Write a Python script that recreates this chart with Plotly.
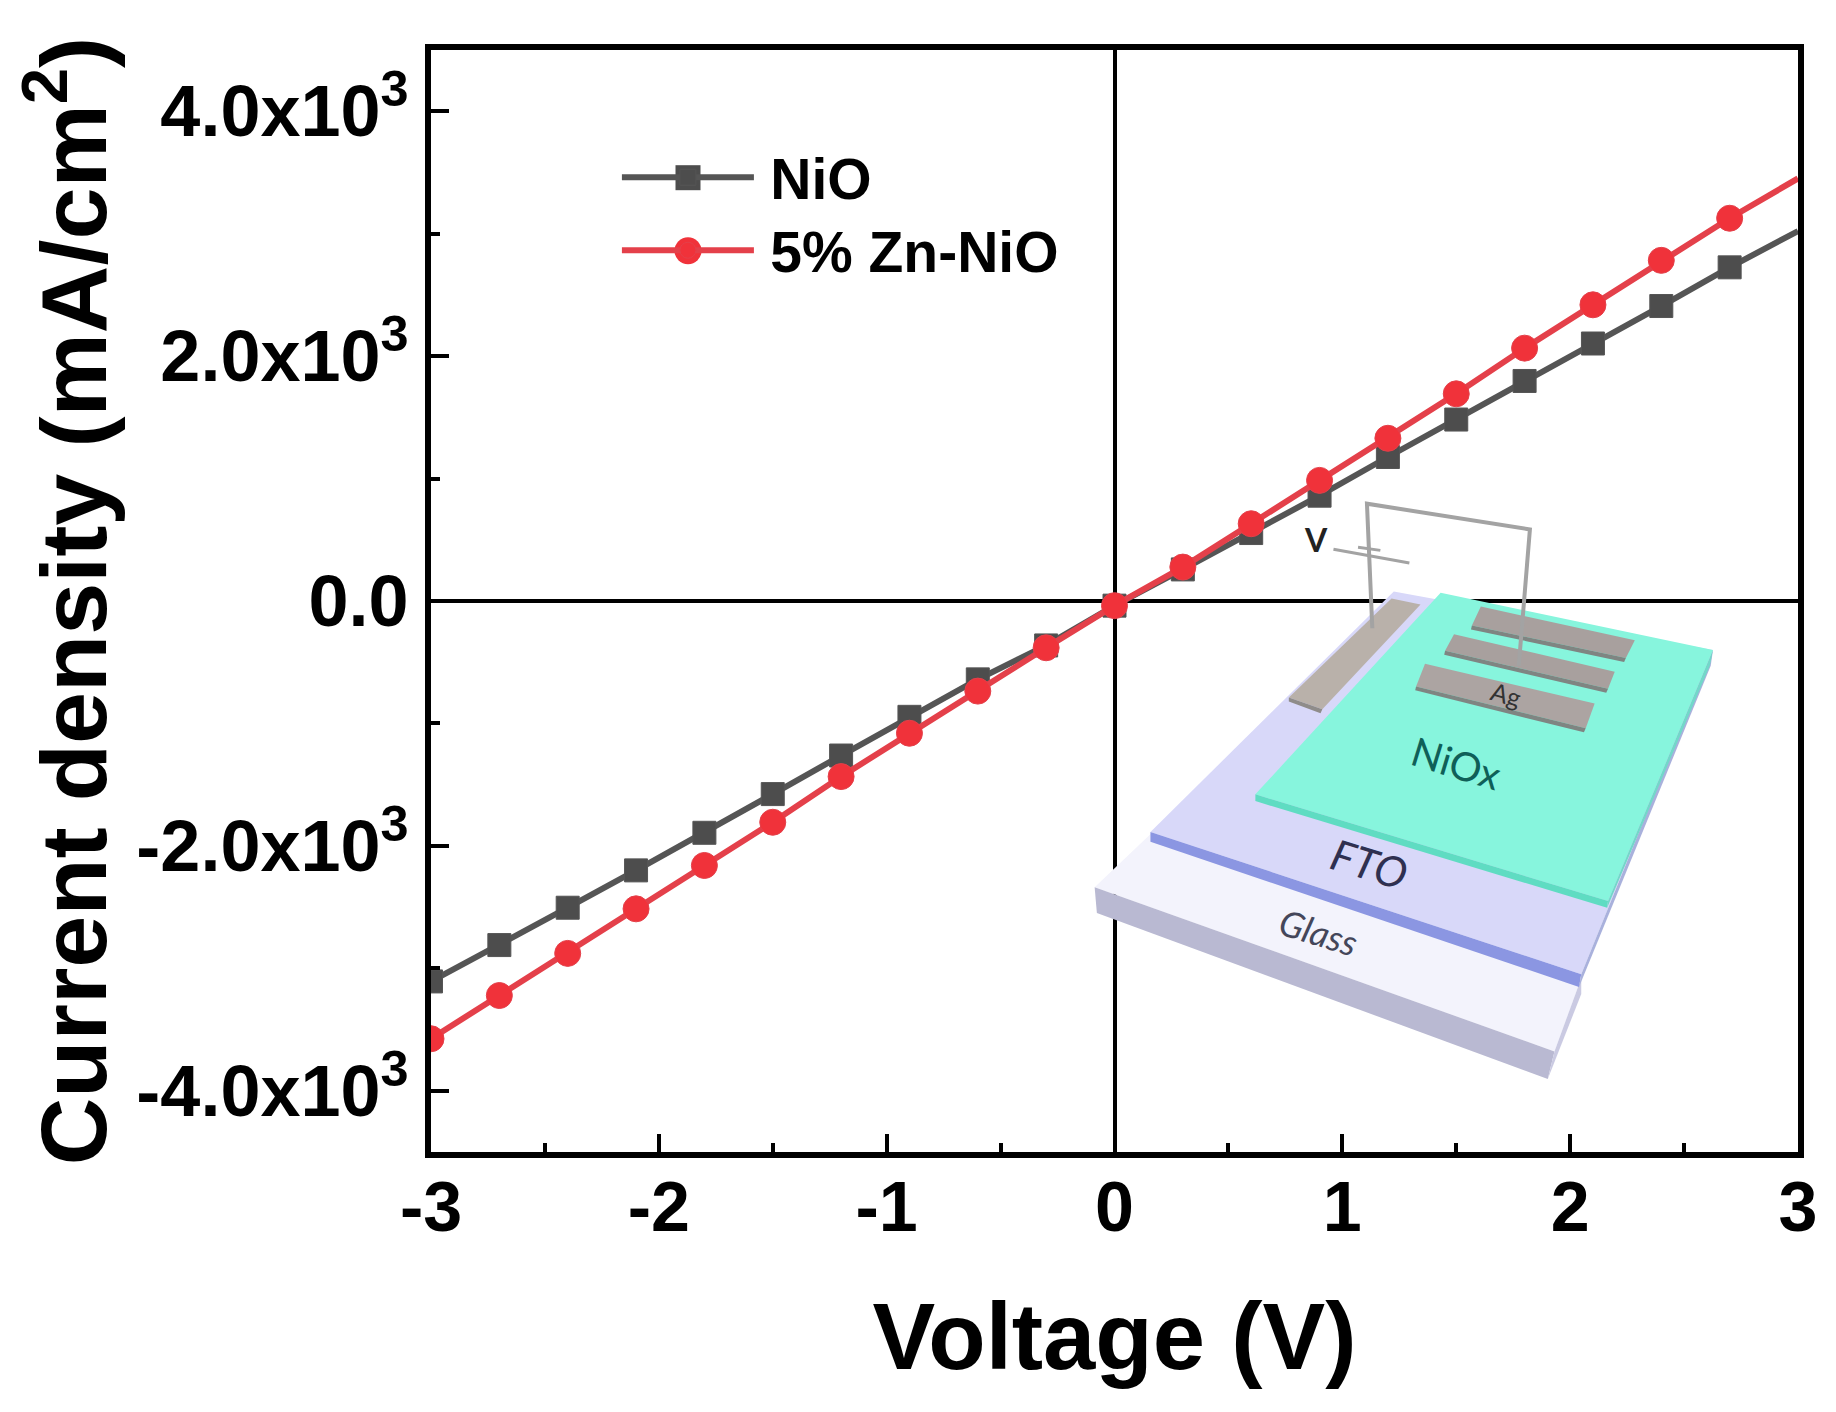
import plotly.graph_objects as go

voltage = [-3.0, -2.7, -2.4, -2.1, -1.8, -1.5, -1.2, -0.9, -0.6, -0.3, 0.0,
           0.3, 0.6, 0.9, 1.2, 1.5, 1.8, 2.1, 2.4, 2.7, 3.0]
nio = [-3107, -2810, -2505, -2200, -1893, -1577, -1262, -946, -640, -363, -38,
       258, 555, 860, 1176, 1482, 1797, 2103, 2409, 2725, 3021]
zn_nio = [-3575, -3222, -2878, -2514, -2160, -1807, -1434, -1080, -736, -382, -38,
          277, 631, 985, 1329, 1692, 2065, 2419, 2782, 3126, 3451]
x_ticks = [-3, -2, -1, 0, 1, 2, 3]
x_tick_labels = ["-3", "-2", "-1", "0", "1", "2", "3"]
y_ticks = [-4000, -2000, 0, 2000, 4000]
y_tick_labels = ["-4.0x10<sup>3</sup>", "-2.0x10<sup>3</sup>", "0.0",
                 "2.0x10<sup>3</sup>", "4.0x10<sup>3</sup>"]

OFF = 8  # page margin of the browser
W, H = 1836 - OFF, 1412 - OFF
ML, MT = 431 - OFF, 50 - OFF
PW, PH = 1367, 1102
MR, MB = W - ML - PW, H - MT - PH
FONT = "Liberation Sans"


def page_to_paper(px, py):
    return (px - OFF - ML) / PW, 1 - (py - OFF - MT) / PH


def to_paper(X, Y):
    # inset artwork is traced in a local frame, mapped onto the page
    return page_to_paper(1050 + X / 2.24, 480 + Y / 2.529)


def poly(pts, fill, closed=True, line=None, width=0):
    p = [to_paper(*q) for q in pts]
    d = "M " + " L ".join(f"{a:.5f},{b:.5f}" for a, b in p) + (" Z" if closed else "")
    return dict(type="path", path=d, xref="paper", yref="paper", layer="above",
                fillcolor=fill if closed else "rgba(0,0,0,0)",
                line=dict(width=width, color=line or "rgba(0,0,0,0)"))


inset = [
    poly([(100, 1030), (230, 890), (1190, 1260), (1130, 1445)], "#f3f3fc"),
    poly([(100, 1030), (1130, 1445), (1115, 1515), (105, 1095)], "#b9b9d2"),
    poly([(1130, 1445), (1115, 1515), (1190, 1300), (1190, 1260)], "#cacae2"),
    poly([(225, 890), (770, 282), (1485, 430), (1190, 1250)], "#d8d8f9"),
    poly([(225, 890), (1190, 1250), (1185, 1282), (225, 915)], "#8b96e2"),
    poly([(1190, 1250), (1185, 1282), (1480, 470), (1485, 430)], "#a9b1dc"),
    poly([(460, 795), (875, 285), (1485, 430), (1250, 1065)], "#87f5dd"),
    poly([(460, 795), (1250, 1065), (1248, 1082), (460, 812)], "#5fdcc2"),
    poly([(1250, 1065), (1248, 1082), (1478, 470), (1485, 430)], "#72d8c9"),
    poly([(535, 550), (765, 300), (830, 315), (610, 580)], "#b9b1aa"),
    poly([(535, 550), (610, 580), (606, 590), (535, 560)], "#8f8c8a"),
    poly([(965, 320), (1310, 405), (1290, 450), (945, 368)], "#a8a09e"),
    poly([(945, 368), (1290, 450), (1286, 460), (943, 378)], "#7f8582"),
    poly([(905, 390), (1265, 485), (1250, 528), (885, 432)], "#a8a09e"),
    poly([(885, 432), (1250, 528), (1246, 538), (883, 442)], "#7f8582"),
    poly([(840, 465), (1220, 565), (1200, 628), (820, 522)], "#aca4a2"),
    poly([(820, 522), (1200, 628), (1196, 638), (818, 532)], "#7f8582"),
    poly([(722, 375), (710, 60), (1075, 125), (1050, 470)], None, False, "#a3a3a3", 4),
    poly([(635, 175), (805, 210)], None, False, "#a3a3a3", 3),
    poly([(690, 170), (740, 178)], None, False, "#a3a3a3", 3),
]

# legend keys are drawn bigger than plotly's legend allows
sq = 12.5
cr = 13.5
(lx0, ly0), (lx1, ly1) = page_to_paper(688 - sq, 177.7 - sq), page_to_paper(688 + sq, 177.7 + sq)
(cx0, cy0), (cx1, cy1) = page_to_paper(688 - cr, 250.7 - cr), page_to_paper(688 + cr, 250.7 + cr)
legend_keys = [
    dict(type="rect", xref="paper", yref="paper", x0=lx0, y0=ly0, x1=lx1, y1=ly1,
         fillcolor="#4d4d4d", line=dict(width=0), layer="above"),
    dict(type="circle", xref="paper", yref="paper", x0=cx0, y0=cy0, x1=cx1, y1=cy1,
         fillcolor="#f0323a", line=dict(width=0), layer="above"),
]


def label(X, Y, text, size, angle, color="#3a3f55", italic=False, bold=False):
    a, b = to_paper(X, Y)
    t = f"<i>{text}</i>" if italic else text
    return dict(x=a, y=b, xref="paper", yref="paper", text=t, showarrow=False,
                xanchor="center", yanchor="middle", textangle=angle,
                font=dict(family="Lato", size=size, color=color,
                          weight="bold" if bold else "normal"))


notes = [
    label(595, 150, "V", 32, 0, "#222222", bold=True),
    label(1022, 542, "Ag", 25, 16, "#333333"),
    label(910, 715, "NiOx", 40, 17, "#0f5f58"),
    label(715, 970, "FTO", 43, 17, "#2f3050", True),
    label(603, 1142, "Glass", 36, 17, "#44465a", True),
]

square_sizes = [23] * (len(voltage) - 1) + [0]
circle_sizes = [26] * (len(voltage) - 1) + [0]

fig = go.Figure()
fig.add_trace(go.Scatter(x=voltage, y=nio, name="\u2009NiO", mode="lines+markers",
                         legend="legend", showlegend=True,
                         line=dict(color="#555555", width=6),
                         marker=dict(symbol="square", size=square_sizes, color="#4d4d4d",
                                     opacity=1)))
fig.add_trace(go.Scatter(x=voltage, y=zn_nio, name="\u20095% Zn-NiO", mode="lines+markers",
                         legend="legend2", showlegend=True,
                         line=dict(color="#e4404a", width=6),
                         marker=dict(symbol="circle", size=circle_sizes, color="#f0323a",
                                     opacity=1)))

leg_font = dict(family=FONT, size=57, color="black", weight="bold")
fig.update_layout(
    width=W, height=H, margin=dict(l=ML, r=MR, t=MT, b=MB, pad=0),
    paper_bgcolor="white", plot_bgcolor="white", showlegend=True,
    font=dict(family=FONT, color="black"),
    shapes=inset + legend_keys, annotations=notes,
    legend=dict(x=0.136, y=page_to_paper(0, 177.7)[1], xanchor="left", yanchor="middle",
                bgcolor="rgba(0,0,0,0)", itemwidth=132, font=leg_font, visible=True),
    legend2=dict(x=0.136, y=page_to_paper(0, 250.7)[1], xanchor="left", yanchor="middle",
                 bgcolor="rgba(0,0,0,0)", itemwidth=132, font=leg_font, visible=True),
)
fig.update_xaxes(
    range=[-3, 3], tickvals=x_ticks, ticktext=x_tick_labels, ticks="inside", ticklen=18,
    tickwidth=4, tickcolor="black", showline=True, linewidth=6, linecolor="black", mirror=True,
    showgrid=False, zeroline=True, zerolinecolor="black", zerolinewidth=4,
    tickfont=dict(family=FONT, size=70, color="black", weight="bold"),
    minor=dict(dtick=0.5, tick0=0, ticks="inside", ticklen=9, tickwidth=4, tickcolor="black"),
    ticklabelstandoff=-11,
    title=dict(text="Voltage (V)", standoff=60,
               font=dict(family=FONT, size=94, color="black", weight="bold")),
)
fig.update_yaxes(
    range=[-4500, 4500], tickvals=y_ticks, ticktext=y_tick_labels, ticks="inside",
    ticklen=18, tickwidth=4, tickcolor="black", showline=True, linewidth=6,
    linecolor="black", mirror=True, showgrid=False, zeroline=True,
    zerolinecolor="black", zerolinewidth=4,
    tickfont=dict(family=FONT, size=72, color="black", weight="bold"),
    minor=dict(dtick=1000, tick0=0, ticks="inside", ticklen=9, tickwidth=4, tickcolor="black"),
    ticklabelstandoff=2,
    title=dict(text="Current density (mA/cm<sup>2</sup>)", standoff=28,
               font=dict(family=FONT, size=93.6, color="black", weight="bold")),
)

fig.write_html("out.html")
